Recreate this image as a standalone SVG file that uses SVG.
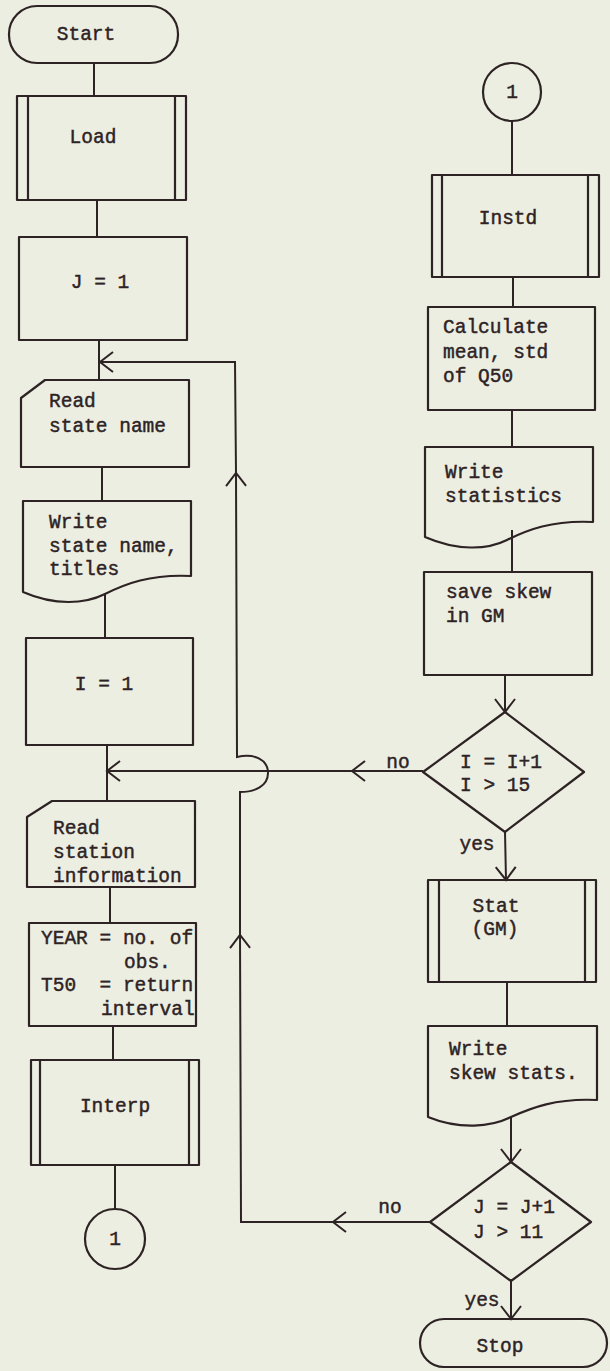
<svg xmlns="http://www.w3.org/2000/svg" width="610" height="1371" viewBox="0 0 610 1371">
<style>
.s{fill:none;stroke:#2e2324;stroke-width:2.2;stroke-linejoin:round}
.c{fill:none;stroke:#2e2324;stroke-width:2}
.t{font-family:"Liberation Mono","Courier New",monospace;font-size:19.5px;fill:#2e2324;stroke:#2e2324;stroke-width:0.45}
.m{text-anchor:middle}
</style>
<defs>
<marker id="ch" markerUnits="userSpaceOnUse" viewBox="-16 -13 18 26" refX="0" refY="0" markerWidth="18" markerHeight="26" orient="auto">
<path d="M-13,-10 L0,0 L-13,10" fill="none" stroke="#2e2324" stroke-width="2"/>
</marker>
</defs>
<rect width="610" height="1371" fill="#edeee2"/>

<g id="connectors">
<path class="c" d="M94,63 V96"/>
<path class="c" d="M97,200 V237"/>
<path class="c" d="M99,340 V380"/>
<path class="c" d="M102,467 V501"/>
<path class="c" d="M105,593 V638"/>
<path class="c" d="M107,745 V801"/>
<path class="c" d="M110,887 V923"/>
<path class="c" d="M113,1026 V1060"/>
<path class="c" d="M115,1165 V1209"/>
<path class="c" d="M512,121 V175"/>
<path class="c" d="M513,277 V307"/>
<path class="c" d="M512,410 V447"/>
<path class="c" d="M512,530 V572"/>
<path class="c" d="M505,675 V712" marker-end="url(#ch)"/>
<path class="c" d="M423,771 H352" marker-end="url(#ch)"/>
<path class="c" d="M352,771 H107" marker-end="url(#ch)"/>
<path class="c" d="M505,832 L506,880" marker-end="url(#ch)"/>
<path class="c" d="M507,982 V1026"/>
<path class="c" d="M511,1117 V1162" marker-end="url(#ch)"/>
<path class="c" d="M430,1222 H333" marker-end="url(#ch)"/>
<path class="c" d="M333,1222 H241 L240,935" marker-end="url(#ch)"/>
<path class="c" d="M240,935 V792 C255,792 268,786 268,773 C268,760 255,753 237,757 L236,473" marker-end="url(#ch)"/>
<path class="c" d="M236,473 L235,362 H100" marker-end="url(#ch)"/>
<path class="c" d="M511,1281 V1319" marker-end="url(#ch)"/>
<text class="t m" x="398" y="768">no</text>
<text class="t m" x="477" y="850">yes</text>
<text class="t m" x="390" y="1213">no</text>
<text class="t m" x="482" y="1306">yes</text>
</g>

<g id="start">
<rect class="s" x="9" y="6" width="169" height="57" rx="28"/>
<text class="t m" x="86" y="40">Start</text>
</g>
<g id="load">
<rect class="s" x="17" y="96" width="169" height="104"/>
<path class="s" d="M28,96 V200 M175,96 V200"/>
<text class="t m" x="93" y="143">Load</text>
</g>
<g id="j1">
<rect class="s" x="19" y="237" width="168" height="103"/>
<text class="t m" x="100" y="288">J = 1</text>
</g>
<g id="readstate">
<path class="s" d="M45,380 H189 V467 H21 V398 Z"/>
<text class="t" x="49" y="407">Read</text>
<text class="t" x="49" y="432">state name</text>
</g>
<g id="writestate">
<path class="s" d="M23,501 H191 V576 C150,574 125,584 105,594 C85,604 55,606 23,592 Z"/>
<text class="t" x="49" y="528">Write</text>
<text class="t" x="49" y="552">state name,</text>
<text class="t" x="49" y="575">titles</text>
</g>
<g id="i1">
<rect class="s" x="26" y="638" width="167" height="107"/>
<text class="t m" x="104" y="690">I = 1</text>
</g>
<g id="readstation">
<path class="s" d="M52,801 H195 V887 H27 V817 Z"/>
<text class="t" x="53" y="834">Read</text>
<text class="t" x="53" y="858">station</text>
<text class="t" x="53" y="882">information</text>
</g>
<g id="year">
<rect class="s" x="29" y="923" width="167" height="103"/>
<text class="t" x="41" y="944">YEAR = no. of</text>
<text class="t" x="124" y="968">obs.</text>
<text class="t" x="41" y="991" xml:space="preserve">T50  = return</text>
<text class="t" x="101" y="1015">interval</text>
</g>
<g id="interp">
<rect class="s" x="31" y="1060" width="168" height="105"/>
<path class="s" d="M40,1060 V1165 M189,1060 V1165"/>
<text class="t m" x="115" y="1112">Interp</text>
</g>
<g id="conn1a">
<circle class="s" cx="115" cy="1239" r="30"/>
<text class="t m" x="115" y="1245">1</text>
</g>
<g id="conn1b">
<circle class="s" cx="512" cy="92" r="29"/>
<text class="t m" x="512" y="98">1</text>
</g>
<g id="instd">
<rect class="s" x="432" y="175" width="167" height="102"/>
<path class="s" d="M442,175 V277 M588,175 V277"/>
<text class="t m" x="508" y="224">Instd</text>
</g>
<g id="calc">
<rect class="s" x="428" y="307" width="167" height="103"/>
<text class="t" x="443" y="333">Calculate</text>
<text class="t" x="443" y="358">mean, std</text>
<text class="t" x="443" y="382">of Q50</text>
</g>
<g id="writestats">
<path class="s" d="M425,447 H593 V522 C552,520 527,530 507,540 C487,550 457,551 425,537 Z"/>
<text class="t" x="445" y="478">Write</text>
<text class="t" x="445" y="502">statistics</text>
</g>
<g id="saveskew">
<rect class="s" x="424" y="572" width="168" height="103"/>
<text class="t" x="446" y="598">save skew</text>
<text class="t" x="446" y="622">in GM</text>
</g>
<g id="diamondI">
<path class="s" d="M505,712 L584,772 L505,832 L423,772 Z"/>
<text class="t" x="460" y="768">I = I+1</text>
<text class="t" x="460" y="791">I &gt; 15</text>
</g>
<g id="stat">
<rect class="s" x="428" y="880" width="168" height="102"/>
<path class="s" d="M439,880 V982 M585,880 V982"/>
<text class="t m" x="496" y="912">Stat</text>
<text class="t m" x="495" y="935">(GM)</text>
</g>
<g id="writeskew">
<path class="s" d="M428,1026 H597 V1100 C556,1098 531,1108 511,1117 C491,1127 460,1130 428,1117 Z"/>
<text class="t" x="449" y="1055">Write</text>
<text class="t" x="449" y="1079">skew stats.</text>
</g>
<g id="diamondJ">
<path class="s" d="M511,1162 L591,1222 L511,1281 L430,1222 Z"/>
<text class="t" x="473" y="1213">J = J+1</text>
<text class="t" x="473" y="1238">J &gt; 11</text>
</g>
<g id="stop">
<rect class="s" x="420" y="1319" width="187" height="48" rx="24"/>
<text class="t m" x="500" y="1352">Stop</text>
</g>
</svg>
